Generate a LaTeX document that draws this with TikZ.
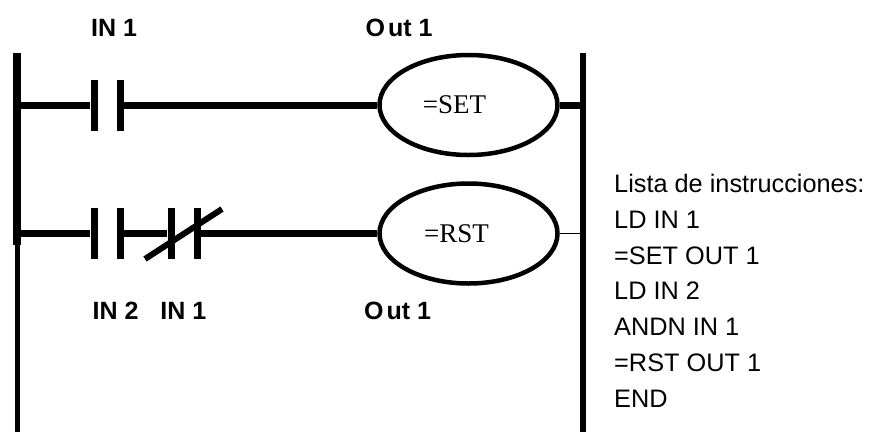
\documentclass[tikz,border=0pt]{standalone}
\usepackage{fontspec}
\setmainfont{Liberation Sans}
\newfontfamily\coilfont{Liberation Serif}
\usetikzlibrary{shapes.geometric}
\begin{document}
\begin{tikzpicture} [
        x=1pt, y=-1pt,
        plate/.style={fill=black, rectangle, inner sep=0pt, minimum width=7pt, minimum height=51pt},
        coil/.style={draw=black, ellipse, line width=4.5pt, inner sep=0pt, minimum width=178pt, minimum height=100pt, font=\coilfont\fontsize{27}{30}\selectfont},
        tag/.style={font=\bfseries\fontsize{25}{28}\selectfont, inner sep=0pt},
        wire/.style={line width=7pt},
        node distance=26pt ]
    \useasboundingbox (0,0) rectangle (874,432);
    \coordinate (railA) at (16.5,53);
    \coordinate (railB) at (16.5,245);
    \coordinate (railC) at (17.5,245);
    \coordinate (railF) at (17.5,432);
    \coordinate (railD) at (583,53);
    \coordinate (railE) at (583,432);
    % first rung
    \node[plate] (c1) at (94,105) {};
    \node[plate, right of=c1] (c2) {};
    \node[coil] (set) at (468.5,105) {\raisebox{-2pt}{=SET}\kern28pt};
    % second rung
    \node[plate] (c3) at (94,233.5) {};
    \node[plate, right of=c3] (c4) {};
    \node[plate, right of=c4, xshift=25pt] (c5) {};
    \node[plate, right of=c5] (c6) {};
    \node[coil] (rst) at (468.5,233.5) {\raisebox{-2pt}{=RST}\kern24pt};
    % rails
    \draw[line width=8pt] (railA) -- (railB);
    \draw[line width=5pt] (railC) -- (railF);
    \draw[line width=6.5pt] (railD) -- (railE);
    % wires
    \draw[wire] (railA |- c1) -- (c1);
    \draw[wire] (c2) -- (set);
    \draw[wire] (set) -- (railD |- set);
    \draw[wire] (railA |- c3) -- (c3);
    \draw[wire] (c4) -- (c5);
    \draw[wire] (c6) -- (rst);
    \draw[line width=1pt] (rst) -- (railD |- rst);
    % slash
    \coordinate (slashA) at (145,259);
    \coordinate (slashB) at (222,209);
    \draw[line width=6pt] (slashA) -- (slashB);
    % labels
    \node[tag] (in1) at (114,28) {IN 1};
    \node[tag] (out1) at (399,28) {O\kern3pt ut 1};
    \node[tag] (in2) at (149.5,311) {IN 2\hspace{22pt}IN 1};
    \node[tag] (out2) at (397.5,311) {O\kern3pt ut 1};
    \node[anchor=north west, inner sep=0pt, align=left, font=\fontsize{25.3}{35.8}\selectfont] (list) at (614,174) {Lista de instrucciones:\\LD IN 1\\=SET OUT 1\\LD IN 2\\ANDN IN 1\\=RST OUT 1\\END};
\end{tikzpicture}
\end{document}
